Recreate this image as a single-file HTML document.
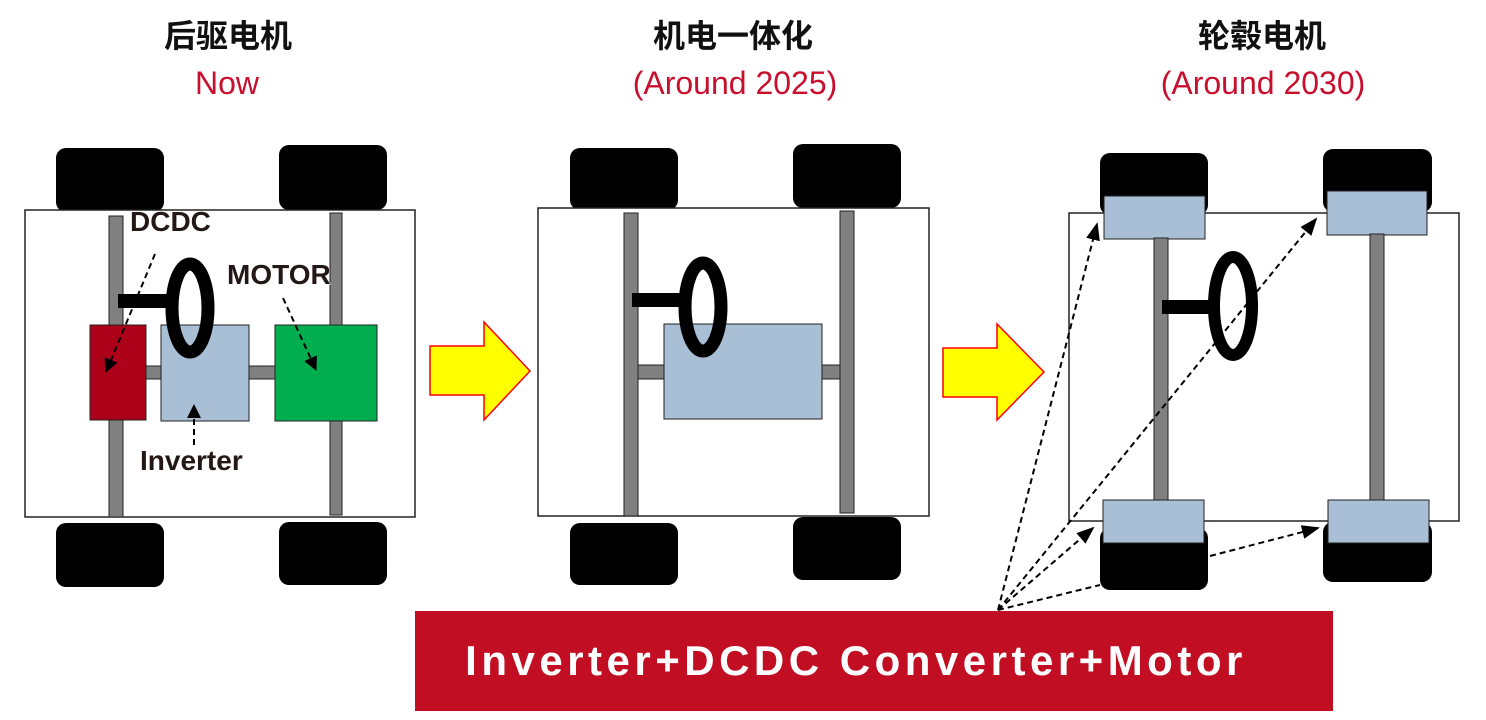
<!DOCTYPE html>
<html><head><meta charset="utf-8"><style>
html,body{margin:0;padding:0;background:#fff;}
svg{display:block;}
.t{font-family:"Liberation Sans","Noto Sans CJK SC",sans-serif;font-weight:bold;font-size:32px;fill:#111;text-anchor:middle;}
.r{font-family:"Liberation Sans",sans-serif;font-size:32px;fill:#c8102e;text-anchor:middle;}
.l{font-family:"Liberation Sans",sans-serif;font-weight:bold;font-size:28px;fill:#231815;stroke:#fff;stroke-width:1px;paint-order:stroke;}
</style></head><body>
<svg width="1486" height="720" viewBox="0 0 1486 720" xmlns="http://www.w3.org/2000/svg">
<defs>
<marker id="a" markerWidth="14" markerHeight="14" refX="13" refY="7" orient="auto" markerUnits="userSpaceOnUse" viewBox="0 0 14 14"><path d="M0,0 L14,7 L0,14z" fill="#000"/></marker>
<marker id="b" markerWidth="18" markerHeight="18" refX="16" refY="9" orient="auto" markerUnits="userSpaceOnUse" viewBox="0 0 18 18"><path d="M0,2 L18,9 L0,16z" fill="#000"/></marker>
</defs>
<text class="t" x="228" y="47">后驱电机</text>
<text class="r" x="227" y="94">Now</text>
<text class="t" x="733" y="47">机电一体化</text>
<text class="r" x="735" y="94">(Around 2025)</text>
<text class="t" x="1262" y="47">轮毂电机</text>
<text class="r" x="1263" y="94">(Around 2030)</text>

<rect x="56" y="148" width="108" height="64" rx="10" fill="#000"/>
<rect x="279" y="145" width="108" height="65" rx="10" fill="#000"/>
<rect x="56" y="523" width="108" height="64" rx="10" fill="#000"/>
<rect x="279" y="522" width="108" height="63" rx="10" fill="#000"/>
<rect x="25" y="210" width="390" height="307" fill="#fff" stroke="#222" stroke-width="1.5"/>
<rect x="109" y="216" width="14" height="301" fill="#808080" stroke="#222"/>
<rect x="330" y="213" width="12" height="302" fill="#808080" stroke="#222"/>
<rect x="140" y="366" width="140" height="13" fill="#808080" stroke="#222"/>
<rect x="90" y="325" width="56" height="95" fill="#ad0019" stroke="#222"/>
<rect x="161" y="325" width="88" height="96" fill="#a8bfd6" stroke="#222"/>
<rect x="275" y="325" width="102" height="96" fill="#00ad4f" stroke="#222"/>
<rect x="118" y="294" width="55" height="14" fill="#000"/>
<ellipse cx="190" cy="308" rx="18" ry="44" fill="none" stroke="#000" stroke-width="13"/>
<line x1="155" y1="254" x2="106" y2="372" stroke="#000" stroke-width="2" stroke-dasharray="6,4" marker-end="url(#a)"/>
<line x1="283" y1="298" x2="316" y2="370" stroke="#000" stroke-width="2" stroke-dasharray="6,4" marker-end="url(#a)"/>
<line x1="194" y1="445" x2="194" y2="405" stroke="#000" stroke-width="2" stroke-dasharray="6,4" marker-end="url(#a)"/>
<text class="l" x="130" y="231">DCDC</text>
<text class="l" x="227" y="284">MOTOR</text>
<text class="l" x="140" y="470">Inverter</text>

<path d="M430,346 H484 V322 L530,371 L484,420 V395 H430Z" fill="#ffff00" stroke="#ff0000" stroke-width="1.5"/>

<rect x="570" y="148" width="108" height="62" rx="10" fill="#000"/>
<rect x="793" y="144" width="108" height="64" rx="10" fill="#000"/>
<rect x="570" y="523" width="108" height="62" rx="10" fill="#000"/>
<rect x="793" y="517" width="108" height="63" rx="10" fill="#000"/>
<rect x="538" y="208" width="391" height="308" fill="#fff" stroke="#222" stroke-width="1.5"/>
<rect x="624" y="213" width="14" height="303" fill="#808080" stroke="#222"/>
<rect x="840" y="211" width="14" height="302" fill="#808080" stroke="#222"/>
<rect x="638" y="365" width="202" height="14" fill="#808080" stroke="#222"/>
<rect x="664" y="324" width="158" height="95" fill="#a8bfd6" stroke="#222"/>
<rect x="632" y="293" width="58" height="14" fill="#000"/>
<ellipse cx="703" cy="307" rx="18" ry="44" fill="none" stroke="#000" stroke-width="13"/>

<path d="M943,348 H997 V324 L1044,372 L997,420 V397 H943Z" fill="#ffff00" stroke="#ff0000" stroke-width="1.5"/>

<rect x="1100" y="153" width="108" height="62" rx="10" fill="#000"/>
<rect x="1323" y="149" width="109" height="63" rx="10" fill="#000"/>
<rect x="1100" y="528" width="108" height="62" rx="10" fill="#000"/>
<rect x="1323" y="522" width="109" height="60" rx="10" fill="#000"/>
<rect x="1069" y="213" width="390" height="308" fill="none" stroke="#222" stroke-width="1.5"/>
<rect x="1104" y="196" width="101" height="43" fill="#a8bfd6" stroke="#222"/>
<rect x="1327" y="191" width="100" height="44" fill="#a8bfd6" stroke="#222"/>
<rect x="1103" y="500" width="101" height="43" fill="#a8bfd6" stroke="#222"/>
<rect x="1328" y="500" width="101" height="43" fill="#a8bfd6" stroke="#222"/>
<rect x="1154" y="238" width="14" height="262" fill="#808080" stroke="#222"/>
<rect x="1370" y="234" width="14" height="266" fill="#808080" stroke="#222"/>
<rect x="1162" y="300" width="51" height="14" fill="#000"/>
<ellipse cx="1233" cy="306" rx="19" ry="49" fill="none" stroke="#000" stroke-width="12"/>
<g stroke="#000" stroke-width="2" stroke-dasharray="6,4" fill="none">
<line x1="998" y1="610" x2="1097" y2="224" marker-end="url(#b)"/>
<line x1="998" y1="610" x2="1316" y2="219" marker-end="url(#b)"/>
<line x1="998" y1="610" x2="1093" y2="528" marker-end="url(#b)"/>
<path d="M998,610 L1100,585"/>
<line x1="1210" y1="556" x2="1318" y2="528" marker-end="url(#b)"/>
</g>

<rect x="415" y="611" width="918" height="100" fill="#c20e23"/>
<text x="856" y="675" text-anchor="middle" font-family="Liberation Sans, sans-serif" font-weight="bold" font-size="42" letter-spacing="4.5" fill="#fff">Inverter+DCDC Converter+Motor</text>
</svg>
</body></html>
